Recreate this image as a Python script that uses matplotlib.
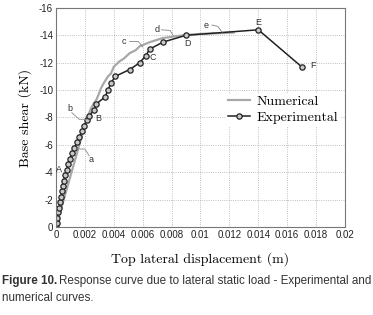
import numpy as np
import matplotlib.pyplot as plt

# experimental curve (m, kN)
exp_x = [0, 0.00005, 0.0001, 0.00016, 0.00022, 0.0003, 0.00036, 0.00042, 0.00048,
         0.00056, 0.00064, 0.00074, 0.00086, 0.00098, 0.00112, 0.00128, 0.00146,
         0.00162, 0.00178, 0.00196, 0.00214, 0.0023, 0.00262, 0.0028, 0.0034,
         0.0036, 0.0038, 0.0041, 0.0051, 0.0058, 0.0062, 0.0065, 0.0074, 0.009,
         0.014, 0.017]
exp_y = [0, -0.3, -0.7, -1.1, -1.4, -1.8, -2.2, -2.6, -3.0, -3.4, -3.8, -4.2, -4.6,
         -5.0, -5.4, -5.8, -6.2, -6.6, -7.0, -7.4, -7.8, -8.1, -8.55, -9.0, -9.5,
         -10.0, -10.5, -11.0, -11.5, -12.0, -12.5, -13.0, -13.5, -14.0, -14.4, -11.7]

# numerical curve
num_x = [0, 0.0021, 0.0024, 0.0026, 0.0028, 0.003, 0.0031, 0.0033, 0.0036, 0.0038,
         0.004, 0.0044, 0.0047, 0.0051, 0.0055, 0.0058, 0.0065, 0.0074, 0.0088,
         0.010, 0.0123]
num_y = [0, -7.8, -8.6, -9.0, -9.3, -9.8, -10.1, -10.5, -11.0, -11.2, -11.7, -12.1,
         -12.3, -12.7, -12.9, -13.2, -13.5, -13.8, -14.0, -14.1, -14.2]

# point labels
pt_names = ['A', 'B', 'C', 'D', 'E', 'F']
pt_x = [0.00023, 0.0029, 0.0067, 0.0091, 0.014, 0.0178]
pt_y = [-4.2, -7.9, -12.4, -13.4, -14.9, -11.8]

# branch labels with leader lines
br_names = ['a', 'b', 'c', 'd', 'e']
br_text = [(0.0024, -4.95), (0.00098, -8.67), (0.0047, -13.55), (0.00697, -14.39), (0.01036, -14.75)]
br_lead = [[(0.0014, -5.7), (0.002, -5.7), (0.0023, -5.2)],
           [(0.0011, -8.35), (0.0016, -7.87), (0.00217, -7.87)],
           [(0.0051, -13.55), (0.0057, -13.55), (0.006, -13.15)],
           [(0.0073, -14.4), (0.0079, -14.35), (0.0081, -14.0)],
           [(0.0108, -14.75), (0.0112, -14.65), (0.0115, -14.22)]]

xticks = [0, 0.002, 0.004, 0.006, 0.008, 0.01, 0.012, 0.014, 0.016, 0.018, 0.02]
xtick_labels = ['0', '0.002', '0.004', '0.006', '0.008', '0.01', '0.012', '0.014', '0.016', '0.018', '0.02']
yticks = [0, -2, -4, -6, -8, -10, -12, -14, -16]
ytick_labels = ['0', '-2', '-4', '-6', '-8', '-10', '-12', '-14', '-16']

plt.rcParams['axes.unicode_minus'] = False
plt.rcParams['mathtext.fontset'] = 'cm'

fig = plt.figure(figsize=(3.73, 3.15), dpi=100)
ax = fig.add_axes([0.150, 0.279, 0.775, 0.696])

ax.plot(num_x, num_y, color='#a8a8a8', lw=1.6, label='Numerical')
ax.plot(exp_x, exp_y, color='#222222', lw=1.1, marker='o', markersize=3.8,
        markerfacecolor='#c8c8c8', markeredgecolor='#222222', markeredgewidth=0.9,
        label='Experimental')

for n, x, y in zip(pt_names, pt_x, pt_y):
    ax.text(x, y, n, fontsize=6.5, ha='center', va='center', color='#333333',
            family='Liberation Sans')
for n, (tx, ty), lead in zip(br_names, br_text, br_lead):
    xs = [p[0] for p in lead]
    ys = [p[1] for p in lead]
    ax.plot(xs, ys, color='#888888', lw=0.6)
    ax.text(tx, ty, n, fontsize=6.5, ha='center', va='center', color='#333333',
            family='Liberation Sans')

ax.set_xlim(0, 0.02)
ax.set_ylim(0, -16)
ax.set_xticks(xticks)
ax.set_xticklabels(xtick_labels, family='Liberation Sans', fontsize=7)
ax.set_yticks(yticks)
ax.set_yticklabels(ytick_labels, family='Liberation Sans', fontsize=7)
ax.tick_params(length=0, pad=2, colors='#222222')
ax.grid(True, linestyle=':', color='#aaaaaa', lw=0.6)
for s in ax.spines.values():
    s.set_color('#777777')
    s.set_linewidth(0.8)

ax.set_xlabel('Top lateral displacement (m)', family='cmr10', fontsize=10, labelpad=9)
ax.set_ylabel('Base shear (kN)', family='cmr10', fontsize=10, labelpad=5)

leg = ax.legend(loc='upper left', bbox_to_anchor=(0.56, 0.645), frameon=True,
                prop={'family': 'cmr10', 'size': 10}, handlelength=1.6,
                borderpad=0.2, labelspacing=0.2, handletextpad=0.5)
leg.get_frame().set_edgecolor('none')
leg.get_frame().set_facecolor('white')
leg.get_frame().set_alpha(1)

bold = fig.text(0.005, 0.098, 'Figure 10.', fontsize=8.4, weight='bold',
                family='Liberation Sans', color='#333333')
fig.canvas.draw()
bb = bold.get_window_extent()
fig.text((bb.x1 + 2) / fig.bbox.width, 0.098,
         'Response curve due to lateral static load - Experimental and',
         fontsize=8.4, family='Liberation Sans', color='#333333')
fig.text(0.005, 0.045, 'numerical curves.', fontsize=8.4, family='Liberation Sans',
         color='#333333')

fig.savefig('out.png', dpi=100)
